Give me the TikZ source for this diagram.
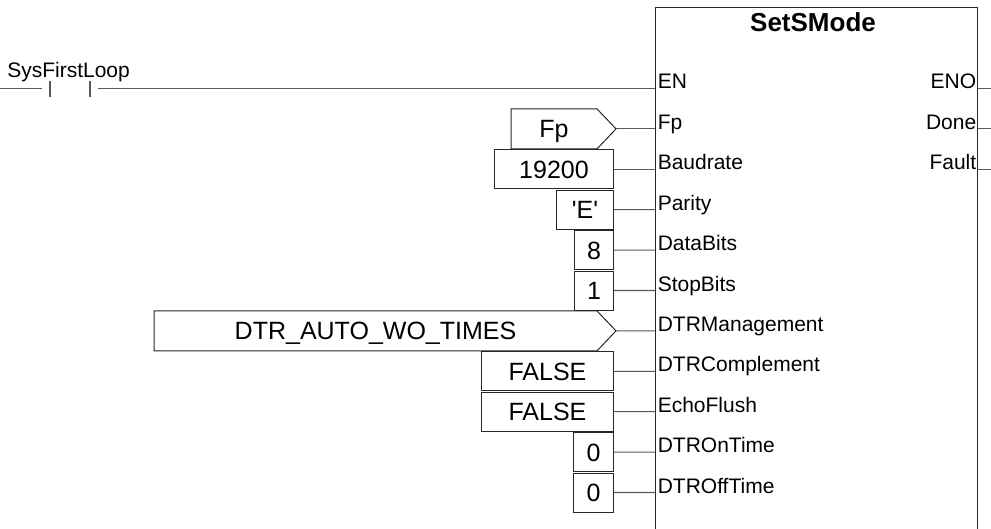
\documentclass[tikz,border=0pt]{standalone}
\usepackage{fontspec}
\setmainfont{Liberation Sans}
\usetikzlibrary{positioning, calc}

\tikzset{
    wire/.style={draw=black!65, line width=0.8pt},
    frame/.style={draw=black!85, line width=0.75pt},
    valbox/.style={frame, rectangle, inner sep=0pt, minimum height=29.25pt,
        text height=13.4pt, text depth=0pt, font=\fontsize{18.75}{20}\selectfont},
    pinlabel/.style={inner sep=0pt, font=\fontsize{15.75}{18}\selectfont},
}

\begin{document}
\begin{tikzpicture}[x=0.75pt, y=-0.75pt]
    \useasboundingbox (0,0) rectangle (991,528);

    % Function block
    \draw[frame] (655,540) -- (655,8) -- (977,8) -- (977,540);
    \node[font=\bfseries\fontsize{19.5}{22}\selectfont, anchor=base, inner sep=0pt] (title) at (813,32) {SetSMode};

    % Input pins
    \foreach \i/\pin in {0/EN, 1/Fp, 2/Baudrate, 3/Parity, 4/DataBits, 5/StopBits,
                         6/DTRManagement, 7/DTRComplement, 8/EchoFlush, 9/DTROnTime, 10/DTROffTime} {
        \coordinate (in\i) at (655, 88.5+40.4*\i);
        \node[pinlabel, anchor=base west] (lab\i) at (657.5, 89+40.4*\i) {\pin};
    }

    % Output pins
    \foreach \i/\pin in {0/ENO, 1/Done, 2/Fault} {
        \node[pinlabel, anchor=base east] (olab\i) at (976.5, 89+40.4*\i) {\pin};
        \coordinate (out\i) at (977, 88.5+40.4*\i);
        \coordinate (outend\i) at (991, 88.5+40.4*\i);
        \draw[wire] (out\i) -- (outend\i);
    }

    % Contact on the enable line
    \node[pinlabel, anchor=base west] (sysfl) at (7,78) {SysFirstLoop};
    \coordinate (rail) at (0,88.5);
    \coordinate (cl) at (42,88.5);
    \coordinate (cr) at (98,88.5);
    \draw[wire] (rail) -- (cl);
    \draw[wire] (50,81) -- (50,97);
    \draw[wire] (90,81) -- (90,97);
    \draw[wire] (cr) -- (in0);

    % Input values
    \node[valbox, draw=none, minimum width=63.75pt, anchor=east] (fp) at (597,128.9) {Fp};
    \draw[frame] (fp.north west) -- (fp.north east) -- (616,128.9) coordinate (fptip)
        -- (fp.south east) -- (fp.south west) -- cycle;
    \node[valbox, minimum width=89.25pt, anchor=east] (baud) at (614,169.3) {19200};
    \node[valbox, minimum width=42.75pt, anchor=east] (parity) at (614,209.7) {\textquotesingle E\textquotesingle};
    \node[valbox, minimum width=29.25pt, anchor=east] (databits) at (614,250.1) {8};
    \node[valbox, minimum width=29.25pt, anchor=east] (stopbits) at (614,290.5) {1};
    \node[valbox, draw=none, minimum width=331.5pt, anchor=east] (dtrmode) at (597,330.9) {DTR\_AUTO\_WO\_TIMES};
    \draw[frame] (dtrmode.north west) -- (dtrmode.north east) -- (616,330.9) coordinate (dtrtip)
        -- (dtrmode.south east) -- (dtrmode.south west) -- cycle;
    \node[valbox, minimum width=99pt, anchor=east] (dtrcompl) at (614,371.3) {FALSE};
    \node[valbox, minimum width=99pt, anchor=east] (echo) at (614,411.7) {FALSE};
    \node[valbox, minimum width=30pt, anchor=east] (ontime) at (614,452.1) {0};
    \node[valbox, minimum width=30pt, anchor=east] (offtime) at (614,492.5) {0};

    % Wires to the block
    \draw[wire] (fptip) -- (in1);
    \draw[wire] (baud.east) -- (in2);
    \draw[wire] (parity.east) -- (in3);
    \draw[wire] (databits.east) -- (in4);
    \draw[wire] (stopbits.east) -- (in5);
    \draw[wire] (dtrtip) -- (in6);
    \draw[wire] (dtrcompl.east) -- (in7);
    \draw[wire] (echo.east) -- (in8);
    \draw[wire] (ontime.east) -- (in9);
    \draw[wire] (offtime.east) -- (in10);
\end{tikzpicture}
\end{document}
